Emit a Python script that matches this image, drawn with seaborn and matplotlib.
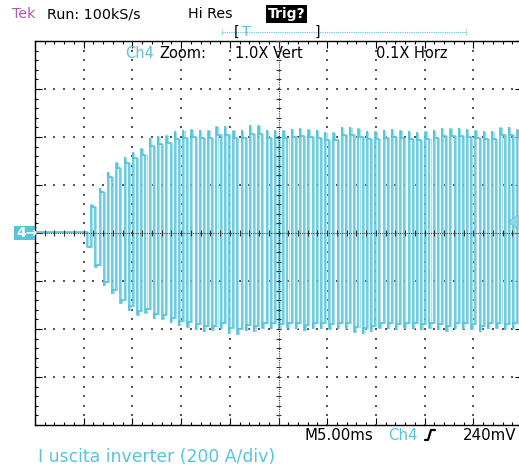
import numpy as np
import pandas as pd
import matplotlib
matplotlib.use("Agg")
import matplotlib.pyplot as plt
from matplotlib.lines import Line2D
from matplotlib.patches import Rectangle, Polygon
import seaborn as sns

# envelope of each cycle, in divisions
top_peaks = [0.58, 0.92, 1.25, 1.46, 1.56, 1.67, 1.75, 1.96, 2.00, 2.02,
             2.11, 2.12, 2.15, 2.12, 2.12, 2.20, 2.20, 2.12, 2.12, 2.22,
             2.22, 2.13, 2.12, 2.13, 2.15, 2.17, 2.15, 2.13, 2.08, 2.08,
             2.19, 2.19, 2.16, 2.11, 2.11, 2.13, 2.15, 2.13, 2.11, 2.08,
             2.11, 2.12, 2.17, 2.17, 2.17, 2.15, 2.12, 2.11, 2.11, 2.19,
             2.19, 2.15]
bottom_peaks = [-0.30, -0.70, -1.08, -1.25, -1.46, -1.60, -1.70, -1.67, -1.77, -1.80,
                -1.86, -1.92, -1.95, -2.00, -2.05, -2.03, -1.98, -2.08, -2.10, -2.02,
                -2.05, -1.97, -1.98, -2.00, -1.97, -1.98, -2.02, -1.97, -1.98, -2.00,
                -1.97, -1.98, -2.06, -2.08, -2.04, -1.98, -1.97, -2.00, -1.98, -1.97,
                -1.99, -1.98, -2.00, -2.04, -1.98, -1.97, -1.99, -2.05, -1.98, -1.97,
                -2.00, -1.98]
start_div = 1.068      # first cycle, divisions from the left edge
period_div = 0.1715    # one cycle on screen

# build the trace from the envelope
t = [0.0, start_div]
v = [0.02, 0.02]
h = period_div / 2
d = 0.008
for k, (tp, bt) in enumerate(zip(top_peaks, bottom_peaks)):
    x0 = start_div + k * period_div
    t += [x0, x0 + d, x0 + d, x0 + h]
    v += [bt, bt, bt * 0.95, bt * 0.95]
    t += [x0 + h, x0 + h + d, x0 + h + d, x0 + period_div]
    v += [tp, tp, tp * 0.93, tp * 0.93]
trace = pd.DataFrame({"t": t, "v": v})
ghost = pd.DataFrame({"t": np.array(t) + 0.022, "v": v})

sns.set_style("white")
plt.rcParams["font.family"] = ["DejaVu Sans"]

W, H = 519, 469
fig = plt.figure(figsize=(W / 100, H / 100), dpi=100)
ax = fig.add_axes([35 / W, 44 / H, 487 / W, 384 / H])

cyan = "#58c4da"
sns.lineplot(data=ghost, x="t", y="v", sort=False, estimator=None,
             color="#a8dfeb", lw=1.0, ax=ax, zorder=2)
sns.lineplot(data=trace, x="t", y="v", sort=False, estimator=None,
             color=cyan, lw=1.2, ax=ax, zorder=3)

ax.set_xlim(0, 10)
ax.set_ylim(-4, 4)
ax.set_xlabel("")
ax.set_ylabel("")

# graticule
dots_y = np.arange(-4, 4.01, 0.2)
dots_x = np.arange(0, 10.01, 0.2)
for gx in [1, 2, 3, 4, 6, 7, 8, 9]:
    ax.scatter(np.full(len(dots_y), gx), dots_y, s=1.1, marker="s",
               color="#555555", linewidths=0, zorder=1)
for gy in [-3, -2, -1, 1, 2, 3]:
    ax.scatter(dots_x, np.full(len(dots_x), gy), s=1.1, marker="s",
               color="#555555", linewidths=0, zorder=1)
ax.axhline(0, color="#444444", lw=0.8, dashes=(1, 1), zorder=4)
ax.axvline(5, color="#444444", lw=0.8, dashes=(1, 1), zorder=4)
ax.vlines(dots_x, -0.06, 0.06, color="#333333", lw=0.8, zorder=4)
ax.hlines(dots_y, 4.94, 5.06, color="#333333", lw=0.8, zorder=4)

ax.set_xticks(range(11))
ax.set_yticks(range(-4, 5))
ax.set_xticks(dots_x, minor=True)
ax.set_yticks(dots_y, minor=True)
ax.tick_params(which="both", direction="in", bottom=True, top=True,
               left=True, right=True, labelbottom=False, labelleft=False,
               color="black", width=0.8)
ax.tick_params(which="major", length=5)
ax.tick_params(which="minor", length=2.5)
for s in ax.spines.values():
    s.set_color("black")
    s.set_linewidth(1.0)


def fx(px):
    return px / W


def fy(py):
    return 1 - py / H


# header
fig.text(fx(12), fy(14), "Tek", color="#b05aa8", fontsize=10.3, va="center")
fig.text(fx(47), fy(14), "Run: 100kS/s", color="black", fontsize=10.3, va="center")
fig.text(fx(188), fy(14), "Hi Res", color="black", fontsize=10.3, va="center")
fig.text(fx(268), fy(14), "Trig?", color="white", fontsize=10, va="center",
         fontweight="bold",
         bbox=dict(facecolor="black", edgecolor="none", pad=1.2))

# trigger position bar
fig.add_artist(Line2D([fx(222), fx(466)], [fy(32), fy(32)], color=cyan,
                      lw=0.8, dashes=(1, 1)))
fig.add_artist(Line2D([fx(222), fx(222)], [fy(29), fy(35)], color=cyan, lw=0.8, dashes=(1, 1)))
fig.add_artist(Line2D([fx(466), fx(466)], [fy(29), fy(35)], color=cyan, lw=0.8, dashes=(1, 1)))
fig.text(fx(234), fy(32), "[", color="black", fontsize=10, va="center")
fig.text(fx(242), fy(32), "T", color=cyan, fontsize=10, va="center")
fig.text(fx(315), fy(32), "]", color="black", fontsize=10, va="center")

# zoom line inside the graticule
fig.text(fx(125), fy(53), "Ch4", color=cyan, fontsize=10.5, va="center")
fig.text(fx(159), fy(53), "Zoom:", color="black", fontsize=10.5, va="center")
fig.text(fx(235), fy(53), "1.0X Vert", color="black", fontsize=10.5, va="center")
fig.text(fx(376), fy(53), "0.1X Horz", color="black", fontsize=10.5, va="center")

# bottom readout
fig.text(fx(304), fy(435), "M5.00ms", color="black", fontsize=10.8, va="center")
fig.text(fx(388), fy(435), "Ch4", color=cyan, fontsize=10.8, va="center")
fig.add_artist(Line2D([fx(425), fx(428), fx(431), fx(435)],
                      [fy(440), fy(440), fy(430), fy(430)], color="black", lw=1.6))
fig.text(fx(463), fy(435), "240mV", color="black", fontsize=10.8, va="center")

fig.text(fx(38), fy(457), "I uscita inverter (200 A/div)", color=cyan,
         fontsize=12.4, va="center")

# channel marker and trigger level
fig.add_artist(Rectangle((fx(14), fy(240)), 21 / W, 14 / H, facecolor=cyan,
                         edgecolor="none"))
fig.text(fx(16), fy(233), "4\u2192", color="white", fontsize=10, va="center",
         fontweight="bold")
fig.add_artist(Polygon([[fx(508), fy(222)], [fx(518), fy(215)], [fx(518), fy(229)]],
                       closed=True, facecolor="#8fd6e5", edgecolor=cyan, lw=0.6))

fig.savefig("out.png", dpi=100)
